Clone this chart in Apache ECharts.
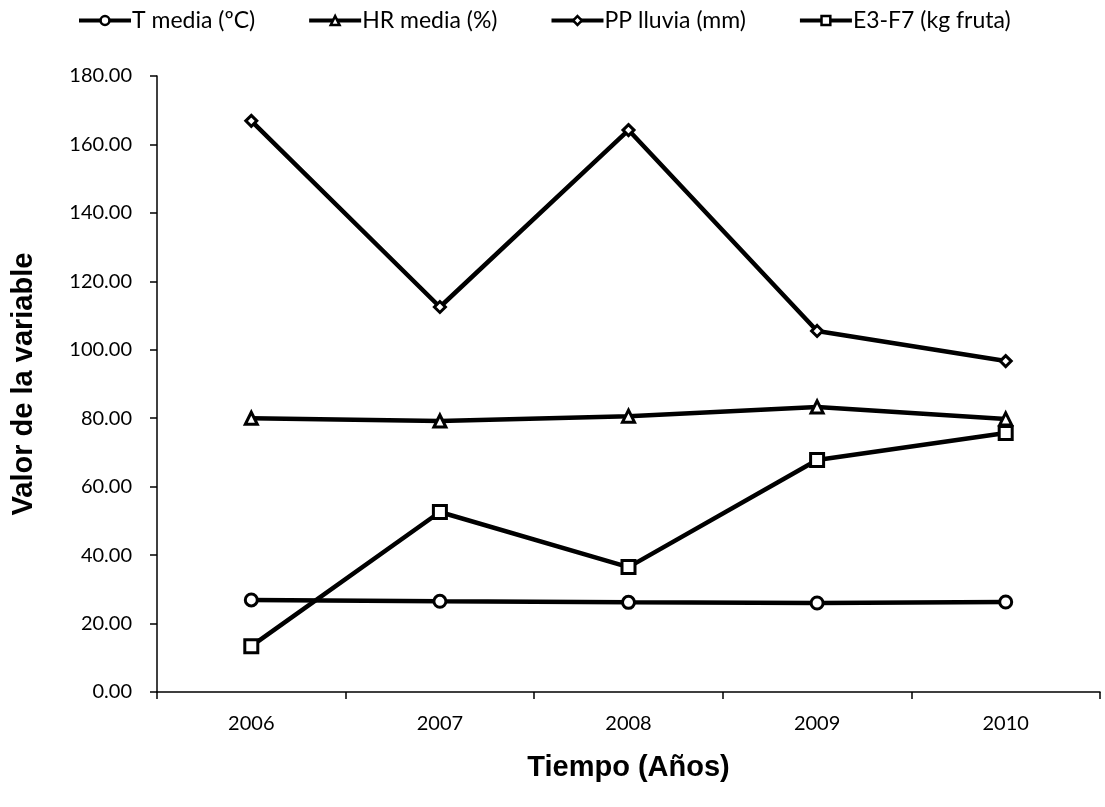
<!DOCTYPE html>
<html><head><meta charset="utf-8">
<script src="https://cdn.jsdelivr.net/npm/echarts@6/dist/echarts.min.js"></script>
<style>html,body{margin:0;padding:0;background:#fff}#c{width:1105px;height:807px}</style>
</head><body><div id="c"></div>
<script>
const years = ['2006','2007','2008','2009','2010'];
const tMedia = [26.9, 26.5, 26.2, 26.0, 26.3];
const hrMedia = [80.0, 79.2, 80.6, 83.3, 79.8];
const ppLluvia = [166.9, 112.5, 164.2, 105.5, 96.7];
const e3f7 = [13.4, 52.6, 36.5, 67.8, 75.7];
const seriesNames = ['T media (ºC)', 'HR media (%)', 'PP lluvia (mm)', 'E3-F7 (kg fruta)'];

const font = 'Lato, "Open Sans", sans-serif';
const boldFont = '"Liberation Sans", Arial, sans-serif';
function mk(name, data, symbol, size) {
  return {
    name, type: 'line', data, symbol, symbolSize: size, showAllSymbol: true,
    lineStyle: {color: '#000', width: 4.5},
    itemStyle: {color: '#fff', borderColor: '#000', borderWidth: 3},
    emphasis: {disabled: true}
  };
}
const chart = echarts.init(document.getElementById('c'));
chart.setOption({
  animation: false,
  backgroundColor: '#fff',
  legend: {
    top: 4, left: 72, itemGap: 52, itemWidth: 52, itemHeight: 11,
    lineStyle: {width: 4, color: '#000'},
    itemStyle: {borderWidth: 2.5, borderColor: '#000', color: '#fff'},
    textStyle: {fontFamily: font, fontSize: 23, color: '#000', padding: [0, 0, 0, -4]},
    data: seriesNames
  },
  grid: {left: 157, right: 5, top: 76, bottom: 115, containLabel: false},
  xAxis: {
    type: 'category', data: years, boundaryGap: true,
    axisLine: {lineStyle: {color: '#000', width: 1.5}},
    axisTick: {show: true, inside: false, length: 7, lineStyle: {color: '#000', width: 1.5}, alignWithLabel: false},
    axisLabel: {fontFamily: font, fontSize: 20, color: '#000', margin: 22},
    name: 'Tiempo (Años)', nameLocation: 'middle', nameGap: 61,
    nameTextStyle: {fontFamily: boldFont, fontWeight: 'bold', fontSize: 29, color: '#000'}
  },
  yAxis: {
    type: 'value', min: 0, max: 180, interval: 20,
    axisLine: {show: true, lineStyle: {color: '#000', width: 1.5}},
    axisTick: {show: true, inside: false, length: 7, lineStyle: {color: '#000', width: 1.5}},
    splitLine: {show: false},
    axisLabel: {fontFamily: font, fontSize: 20, color: '#000', margin: 25, formatter: v => v.toFixed(2)},
    name: 'Valor de la variable', nameLocation: 'middle', nameGap: 119, nameRotate: 90,
    nameTextStyle: {fontFamily: boldFont, fontWeight: 'bold', fontSize: 29, color: '#000'}
  },
  series: [
    mk(seriesNames[0], tMedia, 'circle', 12),
    mk(seriesNames[1], hrMedia, 'triangle', 12),
    mk(seriesNames[2], ppLluvia, 'diamond', 11),
    mk(seriesNames[3], e3f7, 'rect', 13)
  ]
});
</script></body></html>
